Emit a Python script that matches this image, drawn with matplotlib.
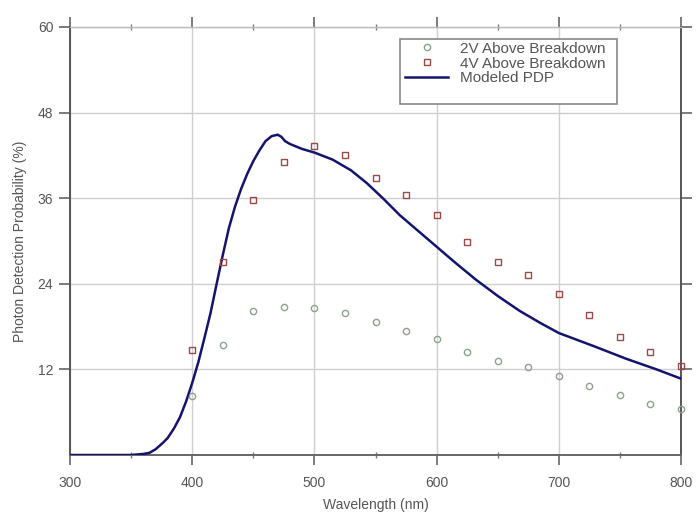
import matplotlib
matplotlib.use("Agg")
import matplotlib.pyplot as plt
from matplotlib.patches import Rectangle
from matplotlib.ticker import MultipleLocator

plt.rcParams['font.family'] = ['Liberation Sans', 'DejaVu Sans']

# Measured PDP at two excess bias voltages
wl_meas = [400, 425, 450, 475, 500, 525, 550, 575, 600, 625, 650, 675, 700, 725, 750, 775, 800]
pdp_2v = [8.3, 15.4, 20.2, 20.7, 20.6, 19.9, 18.6, 17.4, 16.3, 14.5, 13.2, 12.3, 11.1, 9.7, 8.4, 7.2, 6.4]
pdp_4v = [14.7, 27.1, 35.7, 41.1, 43.3, 42.0, 38.8, 36.4, 33.6, 29.9, 27.0, 25.2, 22.6, 19.6, 16.6, 14.4, 12.5]

# Modeled PDP curve
wl_model = [300, 350, 360, 365, 370, 376, 380, 385, 390, 395, 400, 405, 410, 415, 420, 425, 430,
            435, 440, 445, 450, 455, 460, 465, 470, 473, 476, 480, 490, 500, 515, 530, 543, 556,
            570, 585, 600, 615, 632, 650, 668, 685, 700, 728, 755, 780, 800]
pdp_model = [0.0, 0.0, 0.15, 0.3, 0.8, 1.7, 2.4, 3.7, 5.3, 7.5, 10.1, 13.0, 16.4, 19.9, 24.0, 28.0, 31.8,
             34.8, 37.3, 39.4, 41.2, 42.7, 44.0, 44.7, 44.9, 44.6, 44.0, 43.6, 42.9, 42.4, 41.4, 39.9, 38.1, 36.0,
             33.6, 31.4, 29.2, 27.0, 24.6, 22.3, 20.2, 18.5, 17.1, 15.3, 13.5, 12.0, 10.7]

fig = plt.figure(figsize=(6.96, 5.19), dpi=100)
ax = fig.add_axes([70 / 696, 1 - 455 / 519, 611 / 696, 428 / 519])

ax.set_xlim(300, 800)
ax.set_ylim(0, 60)
ax.xaxis.set_major_locator(MultipleLocator(100))
ax.xaxis.set_minor_locator(MultipleLocator(50))
ax.set_yticks([12, 24, 36, 48, 60])

ax.grid(True, which='major', color='#cfcfcf', linewidth=1.0)
ax.set_axisbelow(True)

ax.plot(wl_meas, pdp_2v, linestyle='none', marker='o', markersize=4.5,
        markerfacecolor='none', markeredgecolor='#8fa08f', markeredgewidth=1.0,
        label='2V Above Breakdown', clip_on=False, zorder=4)
ax.plot(wl_meas, pdp_4v, linestyle='none', marker='s', markersize=5,
        markerfacecolor='none', markeredgecolor='#9a4848', markeredgewidth=1.0,
        label='4V Above Breakdown', clip_on=False, zorder=4)
ax.plot(wl_model, pdp_model, color='#14146e', linewidth=1.8, label='Modeled PDP',
        solid_joinstyle='round', zorder=3)

for side in ('left', 'right'):
    ax.spines[side].set_color('#555555')
    ax.spines[side].set_linewidth(1.4)
ax.spines['bottom'].set_color('#666666')
ax.spines['bottom'].set_linewidth(1.4)
ax.spines['top'].set_color('#bbbbbb')
ax.spines['top'].set_linewidth(1.0)

ax.tick_params(axis='both', which='major', colors='#666666', labelcolor='#555555',
               labelsize=10, width=1.2)
ax.tick_params(axis='x', which='major', direction='out', top=True, length=7, pad=8)
ax.tick_params(axis='x', which='minor', direction='inout', top=True, length=4,
               width=1.0, colors='#777777')
ax.tick_params(axis='y', which='major', direction='out', right=True, length=8, pad=4)

ax.set_xlabel('Wavelength (nm)', fontsize=10, color='#555555', labelpad=6)
ax.set_ylabel('Photon Detection Probability (%)', fontsize=10, color='#555555', labelpad=8)

# Legend entries without their own frame; the box is drawn separately
leg = ax.legend(loc='upper left', bbox_to_anchor=(0.540, 0.978), borderaxespad=0,
                fontsize=11, frameon=False, handlelength=2.8, handletextpad=0.8,
                labelspacing=0.05, borderpad=0.35)
for t in leg.get_texts():
    t.set_color('#555555')
ax.add_patch(Rectangle((0.540, 0.820), 0.355, 0.152, transform=ax.transAxes,
                       facecolor='white', edgecolor='#888888', linewidth=1.2, zorder=4.5))
leg.set_zorder(5)

fig.savefig('out.png', dpi=100)
